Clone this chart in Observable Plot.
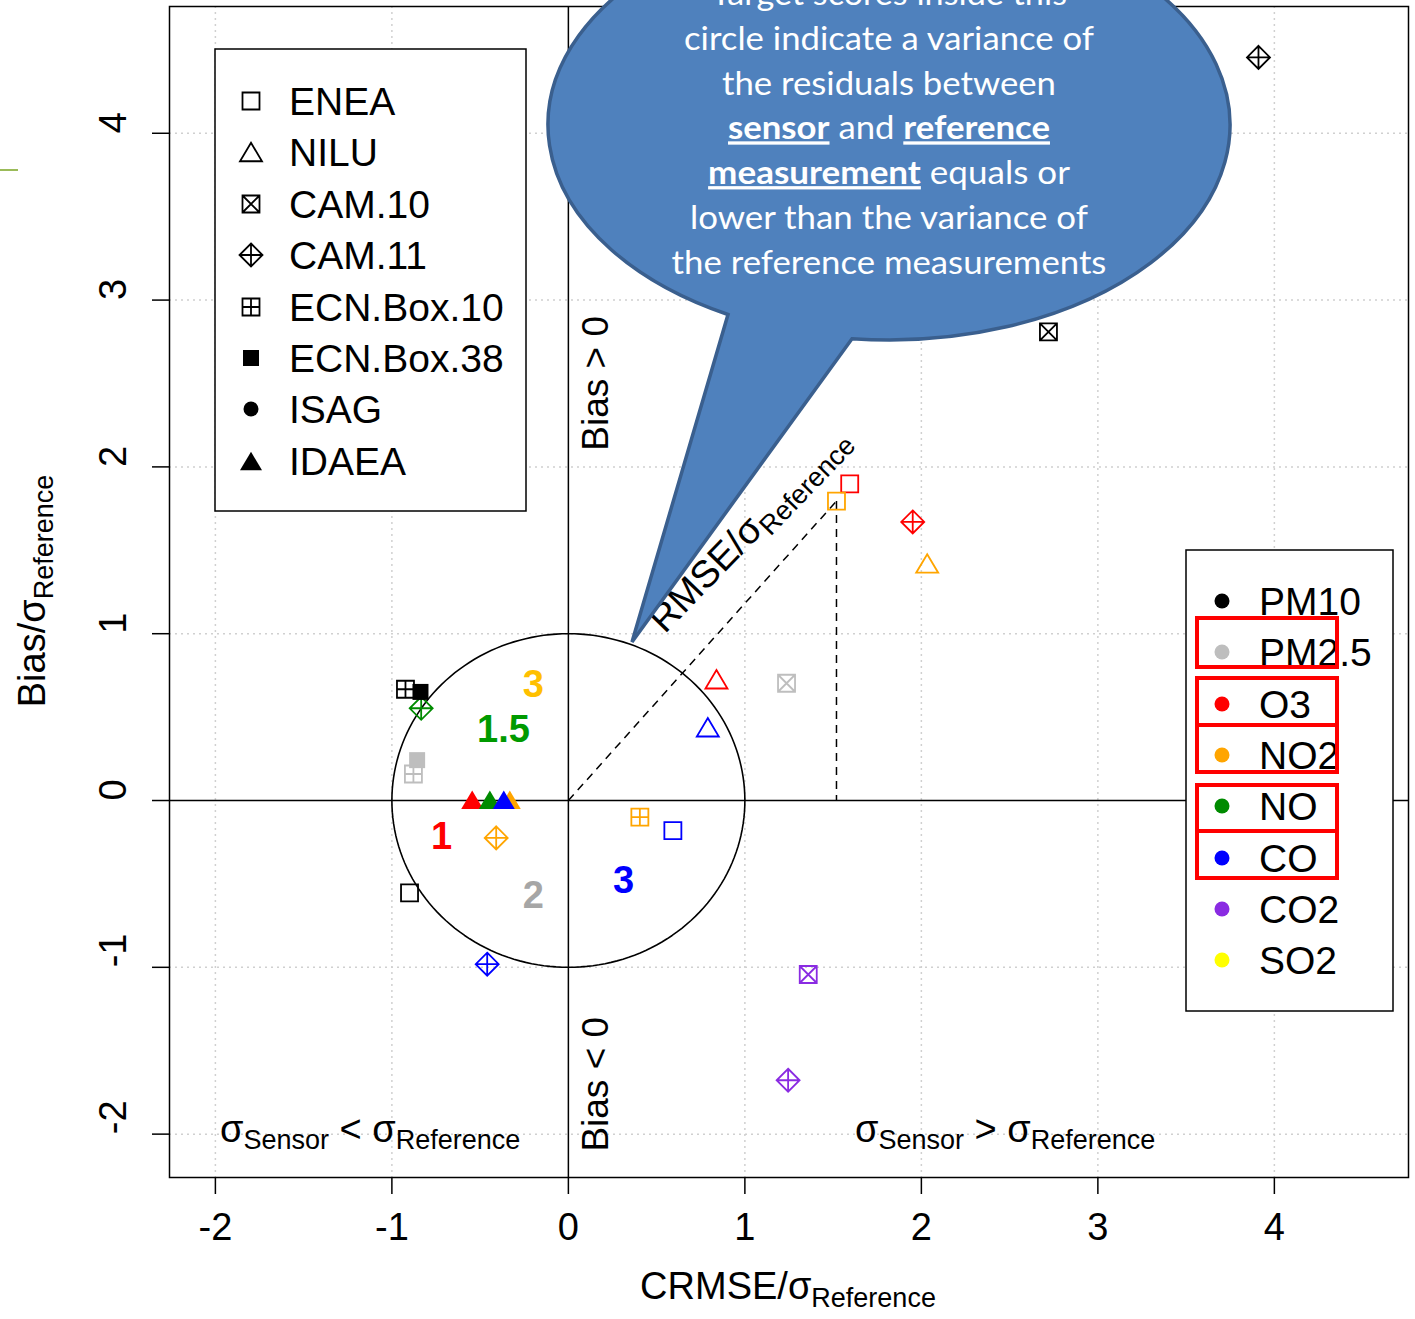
<!DOCTYPE html>
<html><head><meta charset="utf-8">
<script src="https://cdn.jsdelivr.net/npm/d3@7"></script>
<script src="https://cdn.jsdelivr.net/npm/@observablehq/plot@0.6"></script>
<style>body{margin:0;background:#fff} svg{display:block}</style>
</head><body><div id="chart"></div>
<script>
// ---------- data ----------
const pollutants = ["PM10","PM2.5","O3","NO2","NO","CO","CO2","SO2"];
const pollutantColors = ["#000000","#BEBEBE","#FF0000","#FFA500","#008B00","#0000FF","#8A2BE2","#FFFF00"];
const institutions = ["ENEA","NILU","CAM.10","CAM.11","ECN.Box.10","ECN.Box.38","ISAG","IDAEA"];
const xTicks = [-2,-1,0,1,2,3,4];
const yTicks = [-2,-1,0,1,2,3,4];
const axisDomain = [-2.26, 4.76];

const pointInstitution = ["ENEA","ENEA","ENEA","ENEA","NILU","NILU","NILU","CAM.10","CAM.10","CAM.10",
  "CAM.11","CAM.11","CAM.11","CAM.11","CAM.11","CAM.11","ECN.Box.10","ECN.Box.10","ECN.Box.10",
  "ECN.Box.38","ECN.Box.38","IDAEA","IDAEA","IDAEA","IDAEA"];
const pointPollutant = ["PM10","O3","NO2","CO","O3","NO2","CO","PM10","PM2.5","CO2",
  "PM10","O3","NO2","NO","CO","CO2","PM10","PM2.5","NO2",
  "PM10","PM2.5","O3","NO","NO2","CO"];
const pointCRMSE = [-0.900,1.594,1.519,0.592,0.839,2.033,0.790,2.720,1.236,1.359,
  3.910,1.951,-0.409,-0.834,-0.460,1.245,-0.923,-0.878,0.405,
  -0.838,-0.857,-0.545,-0.445,-0.332,-0.366];
const pointBias = [-0.554,1.898,1.795,-0.180,0.727,1.421,0.439,2.810,0.703,-1.043,
  4.455,1.670,-0.224,0.553,-0.981,-1.677,0.667,0.159,-0.100,
  0.651,0.242,0.005,0.005,0.005,0.005];

const scoreLabels = ["3","1.5","1","2","3"];
const scoreColors = ["#FFC000","#009A00","#FF0000","#A6A6A6","#0000FF"];
const scoreX = [-0.198,-0.368,-0.719,-0.198,0.312];
const scoreY = [0.692,0.422,-0.220,-0.573,-0.483];

const biasLabels = ["Bias > 0","Bias < 0"];
const biasLabelX = [0.159,0.159];
const biasLabelY = [2.501,-1.701];

// ---------- symbols (R pch look-alikes) ----------
function rad(s){return Math.sqrt(s/Math.PI);}
function sq(c,r){c.moveTo(-r,-r);c.lineTo(r,-r);c.lineTo(r,r);c.lineTo(-r,r);c.closePath();}
function tri(c,r){const h=0.84*r;c.moveTo(0,-h);c.lineTo(r,h);c.lineTo(-r,h);c.closePath();}
const symbolDefs = {
  square:{draw(c,s){sq(c,rad(s));}},
  triangle:{draw(c,s){tri(c,rad(s));}},
  squareX:{draw(c,s){const r=rad(s);sq(c,r);c.moveTo(-r,-r);c.lineTo(r,r);c.moveTo(-r,r);c.lineTo(r,-r);}},
  diamondPlus:{draw(c,s){const r=rad(s);c.moveTo(0,-r);c.lineTo(r,0);c.lineTo(0,r);c.lineTo(-r,0);c.closePath();c.moveTo(0,-r);c.lineTo(0,r);c.moveTo(-r,0);c.lineTo(r,0);}},
  squarePlus:{draw(c,s){const r=rad(s);sq(c,r);c.moveTo(0,-r);c.lineTo(0,r);c.moveTo(-r,0);c.lineTo(r,0);}},
  squareFilled:{draw(c,s){sq(c,rad(s));}},
  circleFilled:{draw(c,s){const r=rad(s);c.moveTo(r,0);c.arc(0,0,r,0,2*Math.PI);}},
  triangleFilled:{draw(c,s){tri(c,rad(s));}}
};
const institutionStyle = [
  {sym:"square",r:8.5,filled:false},
  {sym:"triangle",r:11,filled:false},
  {sym:"squareX",r:8.5,filled:false},
  {sym:"diamondPlus",r:11.5,filled:false},
  {sym:"squarePlus",r:8.5,filled:false},
  {sym:"squareFilled",r:8,filled:true},
  {sym:"circleFilled",r:7.5,filled:true},
  {sym:"triangleFilled",r:11,filled:true}
];

// ---------- build ----------
const rows = pointCRMSE.map((x,i)=>({institution:pointInstitution[i],pollutant:pointPollutant[i],crmse:x,bias:pointBias[i]}));
const circlePts = d3.range(0,361,2).map(a=>({x:Math.cos(a*Math.PI/180),y:Math.sin(a*Math.PI/180)}));
const refRow = rows.find(d=>d.institution==="ENEA"&&d.pollutant==="NO2");

const marks = [
  Plot.ruleX(xTicks.filter(d=>d!==0),{stroke:"#D0D0D0",strokeWidth:1.5,strokeDasharray:"2,4"}),
  Plot.ruleY(yTicks.filter(d=>d!==0),{stroke:"#D0D0D0",strokeWidth:1.5,strokeDasharray:"2,4"}),
  Plot.ruleX([0],{stroke:"black",strokeWidth:1.5}),
  Plot.ruleY([0],{stroke:"black",strokeWidth:1.5}),
  Plot.line(circlePts,{x:"x",y:"y",stroke:"black",strokeWidth:1.6}),
  Plot.link([refRow],{x1:()=>0,y1:()=>0,x2:"crmse",y2:"bias",stroke:"black",strokeWidth:1.5,strokeDasharray:"8,6"}),
  Plot.link([refRow],{x1:"crmse",y1:"bias",x2:"crmse",y2:()=>0,stroke:"black",strokeWidth:1.5,strokeDasharray:"8,6"}),
  Plot.frame({stroke:"black",strokeWidth:1.5}),
  Plot.axisX(xTicks,{tickSize:17,tickPadding:19,fontSize:38,tickFormat:d=>String(d),strokeWidth:1.5,label:null}),
  Plot.axisY(yTicks,{tickSize:17,tickFormat:()=>"",strokeWidth:1.5,label:null}),
  Plot.text(yTicks,{y:d=>d,frameAnchor:"left",dx:-56,rotate:-90,text:d=>String(d),fontSize:38,fill:"black"})
];
institutions.forEach((inst,k)=>{
  const sub = rows.filter(d=>d.institution===inst);
  if(!sub.length) return;
  const st = institutionStyle[k];
  marks.push(Plot.dot(sub,{x:"crmse",y:"bias",symbol:symbolDefs[st.sym],r:st.r,
    stroke:st.filled?"none":"pollutant",fill:st.filled?"pollutant":"none",strokeWidth:1.8}));
});
scoreLabels.forEach((t,i)=>{
  marks.push(Plot.text([t],{x:()=>scoreX[i],y:()=>scoreY[i],text:d=>d,fill:scoreColors[i],fontWeight:"bold",fontSize:38}));
});
biasLabels.forEach((t,i)=>{
  marks.push(Plot.text([t],{x:()=>biasLabelX[i],y:()=>biasLabelY[i],text:d=>d,rotate:-90,fontSize:37,fill:"black"}));
});

const chart = Plot.plot({
  width:1415,height:1319,
  marginLeft:169,marginRight:7,marginTop:6,marginBottom:142,
  style:{fontFamily:"Liberation Sans, Arial, sans-serif",background:"white",color:"black"},
  x:{domain:axisDomain},
  y:{domain:axisDomain},
  color:{domain:pollutants,range:pollutantColors},
  marks
});
document.getElementById("chart").appendChild(chart);

// ---------- annotations (legends, titles, callout) ----------
const svg = d3.select(chart);
const FONT = "Liberation Sans, Arial, sans-serif";
function richText(parent, parts, size, subSize, subDy){
  const t = parent.append("text").attr("font-family",FONT).attr("font-size",size).attr("fill","black").attr("text-anchor","middle");
  let off = 0;
  parts.forEach(p=>{
    const ts = t.append("tspan").text(p.t);
    const target = p.sub ? subDy : 0;
    if (target!==off){ ts.attr("dy", target-off); off = target; }
    if (p.sub) ts.attr("font-size", subSize);
  });
  return t;
}
// axis titles
richText(svg.append("g").attr("transform","translate(788,1299)"),
  [{t:"CRMSE/σ"},{t:"Reference",sub:true}],38,27,8);
richText(svg.append("g").attr("transform","translate(45,591) rotate(-90)"),
  [{t:"Bias/σ"},{t:"Reference",sub:true}],38,27,8);
// sigma comparison labels
function sigmaLabel(x, op){
  const t = svg.append("text").attr("font-family",FONT).attr("font-size",38).attr("x",x).attr("y",1142).attr("text-anchor","start");
  t.append("tspan").text("σ");
  t.append("tspan").text("Sensor").attr("font-size",27).attr("dy",7);
  t.append("tspan").text(" "+op+" ").attr("dy",-7);
  t.append("tspan").text("σ");
  t.append("tspan").text("Reference").attr("font-size",27).attr("dy",7);
}
sigmaLabel(220,"<");
sigmaLabel(855,">");
// RMSE label along diagonal
richText(svg.append("g").attr("transform","translate(758,538) rotate(-46)"),
  [{t:"RMSE/σ"},{t:"Reference",sub:true}],38,27,8);

// institution legend
const leg1 = svg.append("g");
leg1.append("rect").attr("x",215).attr("y",49).attr("width",311).attr("height",462).attr("fill","white").attr("stroke","black").attr("stroke-width",1.5);
const leg1Rows = [101,152,204,255,307,358,409,461];
institutions.forEach((inst,k)=>{
  const st = institutionStyle[k];
  const p = d3.path(); symbolDefs[st.sym].draw(p, st.r*st.r*Math.PI);
  leg1.append("path").attr("d",p.toString()).attr("transform",`translate(251,${leg1Rows[k]})`)
    .attr("fill",st.filled?"black":"none").attr("stroke",st.filled?"none":"black").attr("stroke-width",1.8);
  leg1.append("text").attr("x",289).attr("y",leg1Rows[k]+14).attr("text-anchor","start").attr("font-family",FONT).attr("font-size",39).text(inst);
});
// pollutant legend
const leg2 = svg.append("g");
leg2.append("rect").attr("x",1186).attr("y",550).attr("width",207).attr("height",461).attr("fill","white").attr("stroke","black").attr("stroke-width",1.5);
const leg2Rows = [601,652,704,755,806,858,909,960];
pollutants.forEach((pl,k)=>{
  leg2.append("circle").attr("cx",1222).attr("cy",leg2Rows[k]).attr("r",7.5).attr("fill",pollutantColors[k]);
  leg2.append("text").attr("x",1259).attr("y",leg2Rows[k]+14).attr("text-anchor","start").attr("font-family",FONT).attr("font-size",39).text(pl);
});
// highlight boxes
const boxes = [[1197,618,140,49],[1197,678,140,47],[1197,725,140,47],[1197,785,140,46],[1197,831,140,47]];
boxes.forEach(b=>svg.append("rect").attr("x",b[0]).attr("y",b[1]).attr("width",b[2]).attr("height",b[3])
  .attr("fill","none").attr("stroke","#FF0000").attr("stroke-width",4));

// callout bubble
svg.append("path").attr("d","M728,314.5 A341,215 0 1 1 852,338.7 L632,642 Z")
  .attr("fill","#4F81BD").attr("stroke","#3A5F8E").attr("stroke-width",3.5).attr("stroke-linejoin","miter");
const bubbleLines = [
  [{t:"Target scores inside this"}],
  [{t:"circle indicate a variance of"}],
  [{t:"the residuals between"}],
  [{t:"sensor",b:true},{t:" and "},{t:"reference",b:true}],
  [{t:"measurement",b:true},{t:" equals or"}],
  [{t:"lower than the variance of"}],
  [{t:"the reference measurements"}]
];
const bubbleWidths = [356,410,334,322,362,398,435];
bubbleLines.forEach((line,i)=>{
  const base = 5 + i*44.8;
  const g = svg.append("g").attr("transform",`translate(889,${base})`);
  const t = g.append("text").attr("font-family","Lato, Open Sans, sans-serif").attr("font-size",33)
    .attr("fill","white").attr("text-anchor","middle");
  line.forEach(p=>{
    const ts = t.append("tspan").text(p.t);
    if(p.b) ts.attr("font-weight","bold").style("text-decoration","underline");
  });
  const w = t.node().getComputedTextLength();
  g.attr("transform",`translate(889,${base}) scale(${bubbleWidths[i]/w},1)`);
});
// slide decoration line
svg.append("line").attr("x1",0).attr("x2",18).attr("y1",170).attr("y2",170).attr("stroke","#9BBB59").attr("stroke-width",2);
</script></body></html>
